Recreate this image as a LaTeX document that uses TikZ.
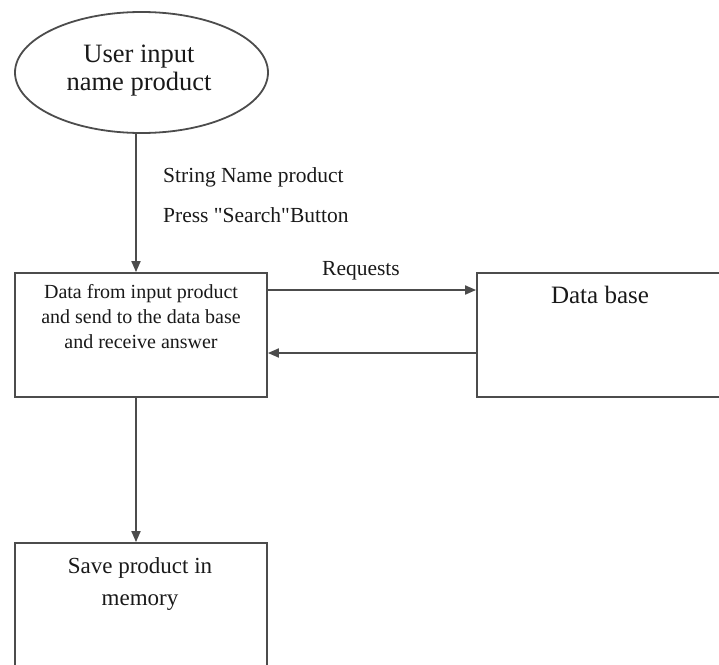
\documentclass[tikz,border=0pt]{standalone}
\usepackage{fontspec}
\setmainfont{Liberation Serif}
\usetikzlibrary{arrows.meta,shapes.geometric}

\begin{document}
\begin{tikzpicture}[x=1pt,y=-1pt,
  line/.style={draw=black!70, line width=1.8pt},
  arr/.style={draw=black!70, line width=1.8pt, -{Triangle[length=11pt,width=9pt]}},
  box/.style={line, rectangle, minimum width=252pt, minimum height=124pt, inner sep=0pt},
  txt/.style={text=black!90, inner sep=0pt, anchor=base},
  big/.style={font=\fontsize{26.5}{26.5}\selectfont},
  mid/.style={font=\fontsize{20}{20}\selectfont},
  lbl/.style={font=\fontsize{21.5}{21.5}\selectfont}
]
\useasboundingbox (0,0) rectangle (719,664);
\clip (0,0) rectangle (719,664);

% shapes
\node[line, ellipse, minimum width=253pt, minimum height=121pt, inner sep=0pt] (ell) at (141.5,72.5) {};
\node[box] (proc) at (141,335) {};
\node[box] (db) at (603,335) {};
\node[box] (mem) at (141,605) {};

% texts
\node[txt, big] (u1) at (139,62) {User input};
\node[txt, big] (u2) at (139,90) {name product};

\node[txt, lbl, anchor=base west] (s1) at (163,182) {String Name product};
\node[txt, lbl, anchor=base west] (s2) at (163,222) {Press \textquotedbl Search\textquotedbl Button};

\node[txt, mid] (p1) at (141,298) {Data from input product};
\node[txt, mid] (p2) at (141,323) {and send to the data base};
\node[txt, mid] (p3) at (141,348) {and receive answer};

\node[txt, lbl] (rq) at (361,275) {Requests};
\node[txt, font=\fontsize{25}{25}\selectfont] (dbt) at (600,303) {Data base};

\node[txt, font=\fontsize{23}{23}\selectfont] (m1) at (140,573) {Save product in};
\node[txt, font=\fontsize{23}{23}\selectfont] (m2) at (140,605) {memory};

% connectors
\coordinate (ax) at (136,0);
\coordinate (ry) at (0,290);
\coordinate (by) at (0,353);
\draw[arr] (ell.south -| ax) -- (proc.north -| ax);
\draw[arr] (proc.east |- ry) -- (db.west |- ry);
\draw[arr] (db.west |- by) -- (proc.east |- by);
\draw[arr] (proc.south -| ax) -- (mem.north -| ax);
\end{tikzpicture}
\end{document}
